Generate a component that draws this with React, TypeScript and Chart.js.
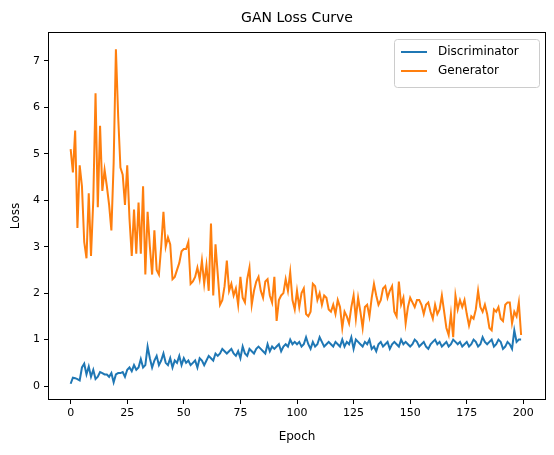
import React, { useEffect, useRef } from "react";
import { Chart, registerables } from "chart.js";
Chart.register(...registerables);

const generator = [
  5.1,4.6,5.5,3.4,4.75,4.3,3.1,2.75,4.15,2.8,
  4.0,6.3,3.85,5.6,4.2,4.65,4.3,3.9,3.35,4.8,
  7.25,5.8,4.7,4.55,3.9,4.75,3.6,2.8,3.8,2.85,
  3.95,2.85,4.3,2.4,3.75,3.0,2.4,3.35,2.5,2.4,
  3.0,3.75,3.0,3.2,3.05,2.3,2.35,2.5,2.65,2.9,
  2.95,2.95,3.1,2.2,2.25,2.35,2.55,2.3,2.7,2.2,
  2.6,2.05,3.5,1.95,3.05,2.4,1.75,1.85,2.15,2.7,
  2.05,2.2,1.95,2.1,1.75,2.35,1.9,1.8,2.3,2.55,
  1.75,2.05,2.25,2.35,2.05,1.9,2.25,2.3,1.95,1.8,
  2.35,1.4,1.85,1.95,2.0,2.3,2.05,2.45,1.85,1.65,
  2.05,1.7,2.0,2.1,1.55,1.5,1.6,2.2,2.15,1.85,
  2.0,1.75,1.95,1.9,1.65,1.6,1.75,1.55,1.85,1.7,
  1.25,1.6,1.5,1.35,1.7,1.95,1.45,1.9,1.6,1.25,
  1.7,1.75,1.5,1.9,2.2,1.95,1.75,1.85,2.1,2.15,
  1.9,2.05,2.15,1.6,1.5,2.25,1.75,1.9,1.35,1.7,
  1.9,1.8,1.7,1.85,1.85,1.75,1.55,1.75,1.8,1.6,
  1.45,1.75,1.55,1.65,1.95,1.6,1.25,1.1,1.55,1.05,
  1.95,1.65,1.85,1.7,1.85,1.55,1.3,1.5,1.45,1.65,
  2.05,1.7,1.6,1.75,1.55,1.25,1.2,1.65,1.6,1.7,
  1.45,1.4,1.75,1.8,1.8,1.35,1.6,1.5,1.8,1.1,
];
const discriminator = [
  .05,.18,.17,.15,.12,.4,.48,.25,.42,.2,
  .35,.15,.2,.3,.28,.25,.25,.2,.28,.08,
  .25,.28,.28,.3,.2,.35,.4,.32,.45,.35,
  .4,.58,.4,.45,.85,.6,.4,.55,.65,.45,
  .55,.7,.5,.45,.6,.4,.55,.5,.65,.45,
  .6,.5,.55,.45,.5,.55,.4,.6,.55,.45,
  .55,.65,.6,.55,.7,.65,.7,.8,.75,.7,
  .75,.8,.7,.65,.75,.6,.85,.7,.65,.8,
  .75,.7,.8,.85,.8,.75,.7,.9,.75,.85,
  .8,.85,.9,.75,.85,.9,.85,1.0,.9,.95,
  .9,.95,.85,.9,1.05,.9,.8,.95,.85,.9,
  1.05,.95,.85,.9,.95,.9,.85,.95,.9,.85,
  1.0,.85,.95,.9,1.05,.8,1.0,.95,.9,.85,
  .95,.9,1.0,.8,.85,.75,.9,.95,.85,.9,
  .95,.8,.9,.95,.9,.85,1.0,.9,.95,.9,
  .85,.9,1.0,.95,.85,.9,.95,.85,.8,.9,
  .95,1.0,.9,.95,.85,.9,.95,.85,.9,1.0,
  .95,.9,.95,.85,.9,.95,.85,.9,1.0,.95,
  .85,.9,1.05,.95,.9,.95,1.0,.85,.9,1.0,
  .95,.8,.85,.95,.9,.8,1.2,.95,1.0,1.0,
];
const seriesNames = ["Discriminator", "Generator"];
const colors = ["#1f77b4", "#ff7f0e"];
const xTicks = [0, 25, 50, 75, 100, 125, 150, 175, 200];
const yTicks = [0, 1, 2, 3, 4, 5, 6, 7];

const FONT = "DejaVu Sans";

export default function App() {
  const ref = useRef<HTMLCanvasElement>(null);
  useEffect(() => {
    document.body.style.margin = "0";
    const toPts = (arr: number[]) => arr.map((y, i) => ({ x: i, y }));
    const deco = {
      id: "deco",
      afterDraw(chart: any) {
        const { ctx, chartArea: a } = chart;
        ctx.save();
        ctx.strokeStyle = "#000";
        ctx.lineWidth = 1;
        ctx.strokeRect(a.left + 0.5, a.top + 0.5, a.right - a.left - 1, a.bottom - a.top - 1);
        ctx.fillStyle = "#000";
        ctx.textAlign = "center";
        ctx.textBaseline = "middle";
        ctx.font = `14px ${FONT}`;
        ctx.fillText("GAN Loss Curve", (a.left + a.right) / 2, 18);
        ctx.font = `12px ${FONT}`;
        ctx.fillText("Epoch", (a.left + a.right) / 2, 437);
        ctx.save();
        ctx.translate(16, (a.top + a.bottom) / 2);
        ctx.rotate(-Math.PI / 2);
        ctx.fillText("Loss", 0, 0);
        ctx.restore();
        const lx = 394, ly = 39, lw = 145, lh = 48;
        ctx.fillStyle = "rgba(255,255,255,0.8)";
        ctx.strokeStyle = "#cccccc";
        ctx.beginPath();
        ctx.roundRect(lx + 0.5, ly + 0.5, lw, lh, 3);
        ctx.fill();
        ctx.stroke();
        ctx.textAlign = "left";
        ctx.font = `12px ${FONT}`;
        seriesNames.forEach((n, i) => {
          const yy = ly + 13 + i * 19;
          ctx.strokeStyle = colors[i];
          ctx.lineWidth = 2;
          ctx.beginPath();
          ctx.moveTo(lx + 7, yy);
          ctx.lineTo(lx + 33, yy);
          ctx.stroke();
          ctx.fillStyle = "#000";
          ctx.fillText(n, lx + 44, yy);
        });
        ctx.restore();
      },
    };
    const chart = new Chart(ref.current!, {
      type: "line",
      data: {
        datasets: [
          { label: seriesNames[0], data: toPts(discriminator), borderColor: colors[0], borderWidth: 2, pointRadius: 0, tension: 0 },
          { label: seriesNames[1], data: toPts(generator), borderColor: colors[1], borderWidth: 2, pointRadius: 0, tension: 0 },
        ],
      },
      options: {
        animation: false,
        responsive: false,
        devicePixelRatio: 1,
        layout: { padding: { top: 32, right: 8, left: 0, bottom: 0 } },
        plugins: { legend: { display: false }, title: { display: false }, tooltip: { enabled: false } },
        scales: {
          x: {
            type: "linear",
            min: -10,
            max: 210,
            afterFit: (s: any) => { s.height = 55; },
            afterBuildTicks: (s: any) => { s.ticks = xTicks.map((v) => ({ value: v })); },
            grid: { drawOnChartArea: false, drawTicks: true, tickLength: 4, color: "#000" },
            border: { display: false },
            ticks: { color: "#000", font: { family: FONT, size: 11 }, padding: 3, maxRotation: 0 },
          },
          y: {
            min: -0.3,
            max: 7.62,
            afterFit: (s: any) => { s.width = 48; },
            afterBuildTicks: (s: any) => { s.ticks = yTicks.map((v) => ({ value: v })); },
            grid: { drawOnChartArea: false, drawTicks: true, tickLength: 4, color: "#000" },
            border: { display: false },
            ticks: { color: "#000", font: { family: FONT, size: 11 }, padding: 4 },
          },
        },
      },
      plugins: [deco],
    } as any);
    return () => chart.destroy();
  }, []);
  return <canvas ref={ref} width={554} height={455} style={{ display: "block" }} />;
}
